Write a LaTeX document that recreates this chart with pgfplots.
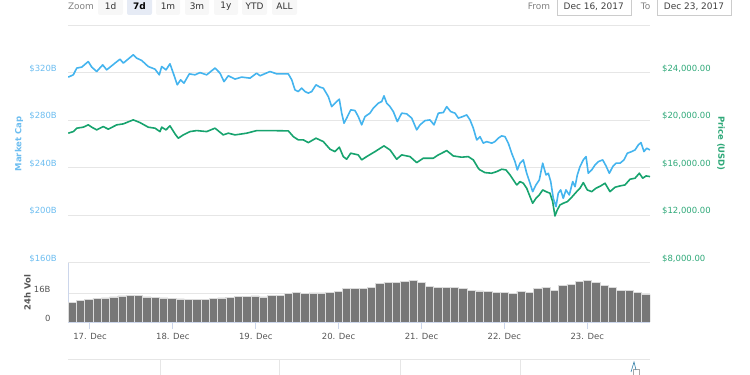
\documentclass[border=0pt]{standalone}
\usepackage{pgfplots}
\usepackage{pgfplotstable}
\pgfplotsset{compat=1.18}
\usepackage{fontspec}
\setmainfont{DejaVu Sans}
\definecolor{mcblue}{HTML}{44B4EE}
\definecolor{mcgreen}{HTML}{17A36E}
\definecolor{lblblue}{HTML}{6CBDF0}
\definecolor{lblgreen}{HTML}{2EA878}
\definecolor{gridc}{HTML}{E6E6E6}
\definecolor{axc}{HTML}{CCD6EB}
\definecolor{txtc}{HTML}{555555}
\definecolor{volc}{HTML}{777777}
\definecolor{btnc}{HTML}{F7F7F7}
\definecolor{btnsel}{HTML}{E6EBF5}

\pgfplotstableread{
d B
-0.262 316.5
-0.201 318.4
-0.160 324.1
-0.100 324.9
-0.021 329.6
0.021 324.9
0.081 321.2
0.153 326.8
0.201 322.6
0.302 328.3
0.362 331.6
0.402 328.3
0.522 335.3
0.563 332.5
0.624 330.5
0.703 325.4
0.784 323.2
0.836 318.4
0.865 325.4
0.917 322.6
0.965 327.7
1.005 319.8
1.053 310.0
1.094 314.2
1.134 311.4
1.198 319.2
1.267 318.4
1.327 320.3
1.408 318.4
1.508 324.1
1.569 319.8
1.617 312.7
1.669 317.6
1.750 314.8
1.830 316.5
1.931 315.6
2.011 319.8
2.051 317.6
2.172 321.2
2.253 319.2
2.393 319.2
2.434 314.2
2.473 305.7
2.513 304.3
2.554 307.2
2.594 304.3
2.634 303.0
2.675 304.3
2.727 310.0
2.775 308.0
2.815 307.2
2.875 300.1
2.916 291.6
2.956 294.5
3.008 297.9
3.037 286.1
3.065 277.6
3.097 281.9
3.146 288.9
3.197 288.3
3.237 283.2
3.278 276.2
3.318 283.2
3.378 286.1
3.418 290.3
3.479 294.5
3.520 295.9
3.547 300.7
3.580 294.5
3.620 291.6
3.660 287.4
3.708 279.0
3.761 286.1
3.821 285.5
3.882 281.9
3.942 272.0
3.982 276.2
4.042 279.8
4.102 280.4
4.151 276.2
4.203 286.1
4.263 286.6
4.304 291.6
4.352 287.4
4.404 286.1
4.444 281.9
4.497 283.2
4.545 284.6
4.585 280.4
4.625 273.4
4.666 263.5
4.706 266.3
4.745 260.8
4.786 262.1
4.847 260.8
4.886 262.1
4.926 265.0
4.967 266.9
5.007 266.3
5.047 260.8
5.088 252.3
5.128 245.2
5.156 238.2
5.188 243.9
5.228 246.7
5.269 235.4
5.309 227.0
5.341 219.9
5.381 225.6
5.421 229.8
5.462 243.9
5.502 234.0
5.530 235.4
5.559 228.4
5.590 214.3
5.623 207.3
5.650 218.6
5.679 221.4
5.710 214.3
5.743 221.4
5.783 217.1
5.824 228.4
5.852 224.1
5.880 234.0
5.912 241.0
5.952 246.7
5.985 249.5
6.012 235.4
6.053 238.2
6.093 242.4
6.133 245.2
6.186 246.7
6.226 241.6
6.266 235.4
6.307 241.0
6.347 243.9
6.395 243.9
6.443 246.7
6.483 252.3
6.536 253.7
6.576 255.1
6.616 259.3
6.648 261.3
6.684 253.7
6.717 256.5
6.757 255.1
}\capdata

\pgfplotstableread{
d P
-0.262 18920
-0.201 19055
-0.160 19342
-0.081 19426
-0.021 19621
0.021 19426
0.081 19199
0.160 19477
0.221 19258
0.322 19621
0.402 19705
0.522 20043
0.603 19815
0.703 19426
0.784 19342
0.845 19055
0.865 19426
0.917 19199
0.965 19536
1.026 18861
1.065 18498
1.126 18776
1.206 19055
1.287 19139
1.408 19055
1.508 19342
1.608 18776
1.669 18920
1.750 18776
1.891 18920
2.011 19139
2.172 19139
2.393 19114
2.453 18633
2.513 18355
2.574 18355
2.634 18127
2.727 18498
2.815 18211
2.896 17570
2.956 17367
3.008 17739
3.056 16945
3.097 16726
3.146 17232
3.237 17089
3.278 16667
3.338 16945
3.439 17367
3.547 17848
3.620 17511
3.700 16726
3.761 17089
3.861 16945
3.942 16439
4.021 16810
4.142 16810
4.203 17089
4.304 17452
4.383 17004
4.484 16895
4.564 16945
4.625 16667
4.685 15966
4.706 15823
4.766 15595
4.847 15544
4.907 15679
4.967 15882
5.019 15823
5.068 15401
5.108 14979
5.149 14557
5.188 14836
5.228 14701
5.269 14279
5.309 13570
5.341 13013
5.381 13435
5.421 13713
5.462 14135
5.502 13992
5.550 13857
5.582 13148
5.610 11941
5.638 12447
5.671 12869
5.710 13013
5.759 13148
5.812 13519
5.872 13992
5.912 14279
5.952 14751
6.000 14135
6.053 13992
6.105 14279
6.162 14473
6.214 14701
6.274 13992
6.335 14363
6.395 14473
6.455 14557
6.516 15038
6.576 15123
6.628 15544
6.669 15123
6.710 15317
6.757 15258
}\pricedata

\pgfplotstableread{
v
11.0
11.9
12.5
13.1
13.4
14.0
14.5
14.9
14.7
14.0
13.8
13.4
13.1
12.9
12.7
12.7
12.7
13.1
13.4
13.8
14.2
14.2
14.5
14.0
14.9
14.9
16.0
16.5
16.0
16.2
16.2
16.5
16.9
18.9
18.8
18.8
19.1
21.3
21.9
21.9
22.8
23.0
22.2
19.7
19.5
19.5
19.1
18.6
17.6
17.3
17.1
16.7
16.4
16.0
17.1
16.7
18.9
19.3
17.5
20.2
20.8
22.4
23.0
22.2
20.6
19.1
17.8
17.6
16.7
15.3
}\voldata

\begin{document}
\begin{tikzpicture}
\path[use as bounding box] (0bp,0bp) rectangle (750bp,375bp);

% main axis: market cap (left)
\begin{axis}[
  at={(68bp,112.3bp)}, anchor=south west,
  scale only axis, width=582bp, height=237.2bp,
  xmin=-0.2654, xmax=6.7568, ymin=160, ymax=360,
  xtick=\empty, scaled ticks=false,
  ytick={160,200,240,280,320,360},
  yticklabels={\$160B,\$200B,\$240B,\$280B,\$320B,{}},
  ymajorgrids, grid style={gridc, line width=1bp},
  axis line style={draw=none},
  major tick length=0pt,
  yticklabel style={text=lblblue, font=\fontsize{8.5}{10}\selectfont, anchor=east, inner sep=0pt, xshift=-11bp, yshift=4bp},
]
\addplot[mcblue, line width=1.6bp, line join=round] table[x=d, y=B] {\capdata};
\end{axis}

% price axis (right)
\begin{axis}[
  at={(68bp,112.3bp)}, anchor=south west,
  scale only axis, width=582bp, height=237.2bp,
  xmin=-0.2654, xmax=6.7568, ymin=8000, ymax=28000,
  axis x line=none, axis y line*=right,
  scaled ticks=false,
  ytick={8000,12000,16000,20000,24000},
  yticklabels={{\$8,000.00},{\$12,000.00},{\$16,000.00},{\$20,000.00},{\$24,000.00}},
  axis line style={draw=none},
  major tick length=0pt,
  yticklabel style={text=lblgreen, font=\fontsize{8.5}{10}\selectfont, anchor=west, inner sep=0pt, xshift=12bp, yshift=4bp},
]
\addplot[mcgreen, line width=1.6bp, line join=round] table[x=d, y=P] {\pricedata};
\end{axis}

% volume axis
\begin{axis}[
  at={(68bp,53bp)}, anchor=south west,
  scale only axis, width=582bp, height=59.3bp,
  xmin=-0.2654, xmax=6.7568, ymin=0, ymax=33.06,
  axis x line*=bottom, axis y line*=left,
  axis line style={axc, line width=1bp},
  scaled ticks=false,
  xtick={0,1,2,3,4,5,6},
  xticklabels={17. Dec,18. Dec,19. Dec,20. Dec,21. Dec,22. Dec,23. Dec},
  ytick={0,16}, yticklabels={0,16B},
  ymajorgrids, grid style={gridc, line width=1bp},
  tick align=outside,
  xtick style={axc, line width=1bp},
  x tick style={/pgfplots/major tick length=7bp},
  ytick style={draw=none},
  xticklabel style={text=txtc, font=\fontsize{8.5}{10}\selectfont, anchor=center, inner sep=0pt, yshift=-10bp},
  yticklabel style={text=txtc, font=\fontsize{8.5}{10}\selectfont, anchor=east, inner sep=0pt, xshift=-13bp, yshift=4bp},
]
\addplot[ybar, bar width=0.1003, fill=volc, draw=white!72!gray, line width=0.7bp]
  table[x expr=\coordindex*0.10032-0.2152, y=v] {\voldata};
\end{axis}

% axis titles
\node[rotate=90, text=lblblue, font=\bfseries\fontsize{8.5}{10}\selectfont] at (19bp,231bp) {Market Cap};
\node[rotate=-90, text=lblgreen, font=\bfseries\fontsize{8.5}{10}\selectfont] at (721bp,231.5bp) {Price (USD)};
\node[rotate=90, text=txtc, font=\bfseries\fontsize{8.5}{10}\selectfont] at (27.5bp,82.5bp) {24h Vol};

% range selector
\node[text=gray, font=\fontsize{9}{10}\selectfont] at (81bp,368.5bp) {Zoom};
\foreach \xa/\xb/\t in {98/123/1d,156/180/1m,185/209/3m,214/238/1y,242/267/YTD,272/297/ALL}{
  \fill[btnc, rounded corners=2bp] (\xa bp,360bp) rectangle (\xb bp,380bp);
  \node[text=black!80, font=\fontsize{9}{10}\selectfont] at ({(\xa+\xb)/2*1bp},368.5bp) {\t};
}
\fill[btnsel, rounded corners=2bp] (127bp,360bp) rectangle (152bp,380bp);
\node[text=black, font=\bfseries\fontsize{9}{10}\selectfont] at (139.5bp,368.5bp) {7d};

\node[text=gray, font=\fontsize{9}{10}\selectfont] at (539bp,368.5bp) {From};
\draw[black!20, fill=white] (556.7bp,360bp) rectangle (630.7bp,380bp);
\node[text=black!75, font=\fontsize{9}{10}\selectfont] at (593.7bp,368.5bp) {Dec 16, 2017};
\node[text=gray, font=\fontsize{9}{10}\selectfont] at (645.5bp,368.5bp) {To};
\draw[black!20, fill=white] (657.3bp,360bp) rectangle (731bp,380bp);
\node[text=black!75, font=\fontsize{9}{10}\selectfont] at (694bp,368.5bp) {Dec 23, 2017};

% navigator remnant
\draw[gridc, line width=1bp] (68bp,15bp) -- (650bp,15bp);
\foreach \xv in {160,279,400,520.7}{\draw[gridc, line width=1bp] (\xv bp,15bp) -- (\xv bp,0bp);}
\draw[black!35, line width=0.5bp] (633bp,0bp) rectangle (639bp,6bp);
\draw[mcblue!70!black, line width=0.6bp] (631bp,3bp) -- (634bp,13bp) -- (636bp,5bp);
\end{tikzpicture}
\end{document}
